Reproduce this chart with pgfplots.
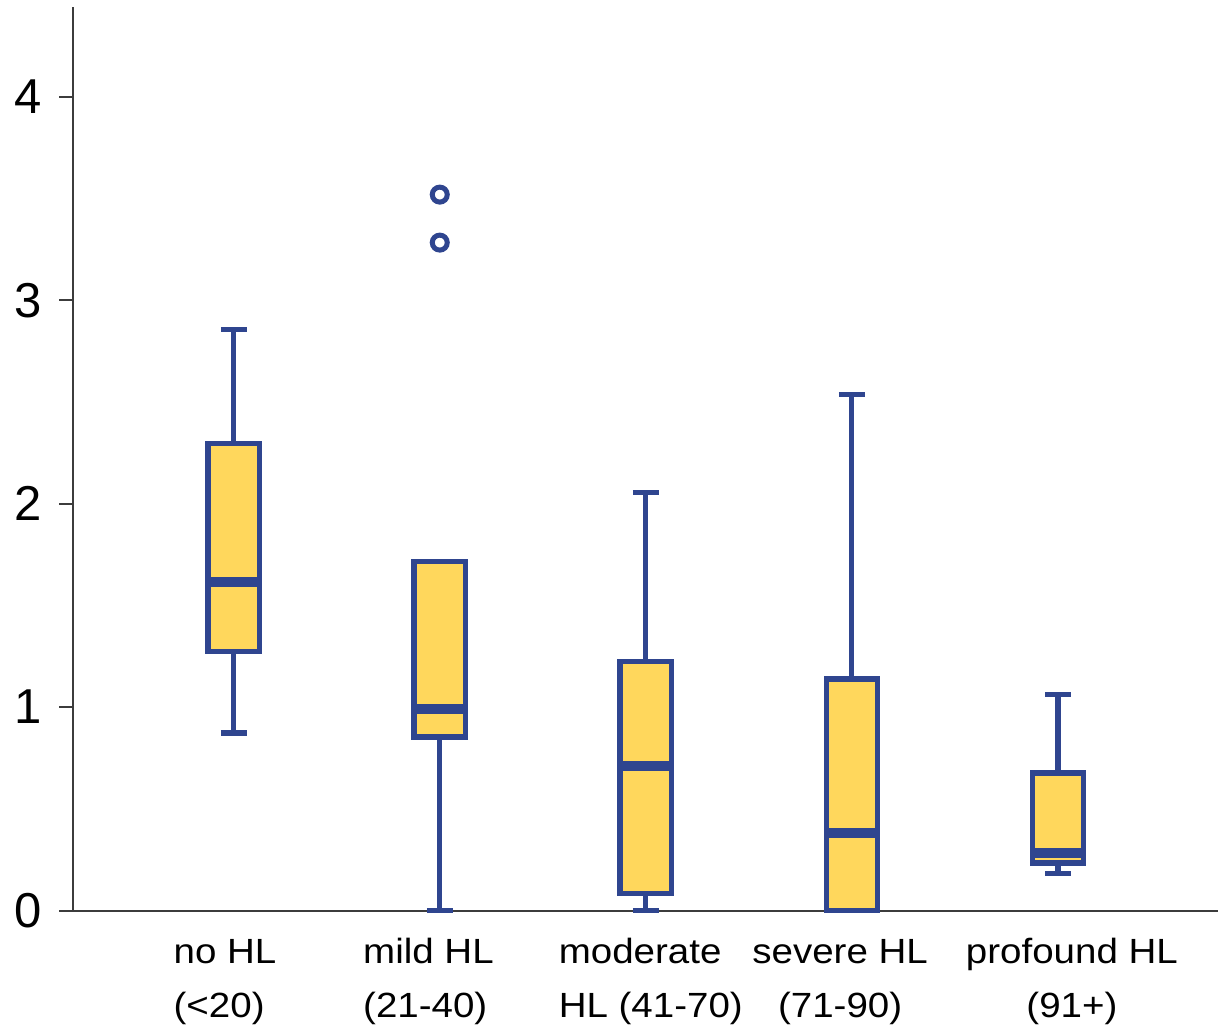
\documentclass[border=0pt]{standalone}
\usepackage{fontspec}
\setmainfont{Liberation Sans}
\usepackage{graphicx}
\usepackage{pgfplots}
\pgfplotsset{compat=1.18}
\usepgfplotslibrary{statistics}
\definecolor{bblue}{RGB}{47,69,143}
\definecolor{byellow}{RGB}{255,215,92}
\definecolor{axgray}{RGB}{60,60,60}
\newcommand{\xl}[3]{\makebox[0pt]{\kern#1\scalebox{1.1}[1]{\begin{tabular}{@{}#2@{}}#3\end{tabular}}}}
\begin{document}
\begin{tikzpicture}
\begin{axis}[
  scale only axis, width=1145pt, height=903pt,
  xmin=0.22, xmax=5.777, ymin=0, ymax=4.44,
  axis x line*=bottom, axis y line*=left,
  axis line style={axgray, line width=2pt},
  ytick={0,1,2,3,4},
  xtick={1,2,3,4,5},
  xticklabels={{\xl{-17.4pt}{l}{no HL\\(<20)}},{\xl{-22.6pt}{l}{mild HL\\(21-40)}},{\xl{10pt}{l}{moderate\\HL (41-70)}},{\xl{-23.4pt}{c}{severe HL\\(71-90)}},{\xl{28pt}{c}{profound HL\\(91+)}}},
  x tick style={draw=none},
  y tick style={axgray, line width=2pt},
  tick align=outside, major tick length=14pt,
  /pgf/number format/assume math mode=true,
  yticklabel style={font=\fontsize{49}{54}\selectfont, inner sep=0pt, xshift=-17pt},
  xticklabel style={font=\fontsize{35}{54}\selectfont, inner sep=0pt, yshift=-1.2pt},
  boxplot/draw direction=y,
  boxplot/box extend=0.25,
  boxplot/whisker extend=0.125,
  boxplot/every box/.style={fill=byellow},
  boxplot/every median/.style={line width=10pt},
  clip=false,
]
\coordinate (bbsw) at (rel axis cs:0,0);
\coordinate (bbne) at (rel axis cs:1,1);
\addplot[draw=bblue, line width=5.2pt, boxplot prepared={draw position=1, lower whisker=0.873, lower quartile=1.274, median=1.614, upper quartile=2.298, upper whisker=2.855}] coordinates {};
\addplot[draw=bblue, line width=5.2pt, mark=*, mark size=7.5pt, mark options={draw=bblue, fill=white, line width=5pt, solid},
  boxplot prepared={draw position=2, lower whisker=0, lower quartile=0.853, median=0.989, upper quartile=1.716, upper whisker=1.716}] coordinates {(0,3.52) (0,3.284)};
\addplot[draw=bblue, line width=5.2pt, boxplot prepared={draw position=3, lower whisker=0, lower quartile=0.084, median=0.713, upper quartile=1.224, upper whisker=2.054}] coordinates {};
\addplot[draw=bblue, line width=5.2pt, boxplot prepared={draw position=4, lower whisker=0, lower quartile=0, median=0.380, upper quartile=1.138, upper whisker=2.536}] coordinates {};
\addplot[draw=bblue, line width=5.2pt, boxplot prepared={draw position=5, lower whisker=0.183, lower quartile=0.234, median=0.283, upper quartile=0.676, upper whisker=1.062}] coordinates {};
\end{axis}
\pgfresetboundingbox
\path[use as bounding box] ([xshift=-73pt,yshift=-114pt]bbsw) rectangle ([xshift=7pt,yshift=7.5pt]bbne);
\end{tikzpicture}
\end{document}
